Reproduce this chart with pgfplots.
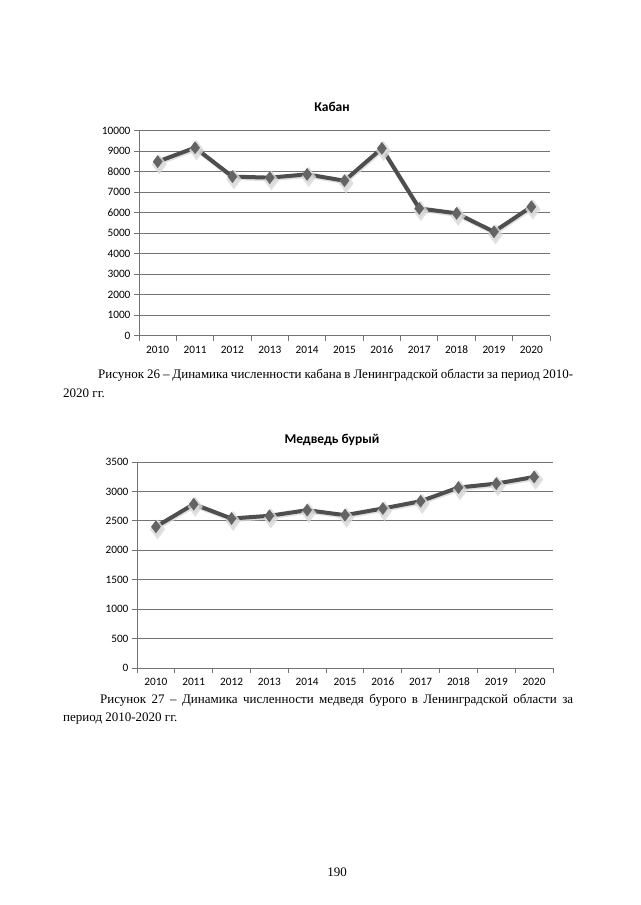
\documentclass[border=0pt]{standalone}
\usepackage{fontspec}
\setmainfont{Liberation Serif}
\newfontfamily\calibri{Carlito}
\usepackage{pgfplots}
\pgfplotsset{compat=1.18}
\definecolor{linec}{RGB}{78,78,78}
\definecolor{markc}{RGB}{100,100,100}
\definecolor{gridc}{RGB}{115,115,115}
\pgfplotsset{
  excel/.style={
    scale only axis,
    axis x line*=bottom, axis y line*=left,
    xmin=-0.5, xmax=10.5, ymin=0,
    xtick={-0.5,0.5,...,10.5}, xticklabels={},
    extra x ticks={0,1,2,3,4,5,6,7,8,9,10},
    extra x tick labels={2010,2011,2012,2013,2014,2015,2016,2017,2018,2019,2020},
    extra x tick style={tick style={draw=none}},
    x tick label style={yshift=-1.5pt},
    tick align=outside, major tick length=5pt,
    ymajorgrids, grid style={gridc, line width=0.9pt},
    axis line style={gridc, line width=0.9pt},
    tick style={gridc, line width=0.9pt},
    ticklabel style={font=\calibri\fontsize{11.3}{13}\selectfont, text=black},
    scaled ticks=false,
    /pgf/number format/assume math mode=true,
    /pgf/number format/1000 sep={},
    clip=false,
  },
  serie/.style={linec, line width=4pt, mark=diamond*, mark size=6pt,
    mark options={fill=markc, draw=markc, line width=0.5pt}},
  shadow/.style={gray!30, line width=4.5pt, mark=diamond*, mark size=6.3pt,
    mark options={fill=gray!30, draw=gray!30}, opacity=0.8,
    transform canvas={xshift=0.8pt, yshift=-1.3pt}},
}
\begin{document}
\begin{tikzpicture}[x=1pt,y=1pt]
\fill[white] (0pt,0pt) rectangle (640pt,-905pt);

% Chart 1
\begin{axis}[excel, at={(139pt,-335.7pt)}, anchor=south west, width=411pt, height=205pt,
  ymax=10000, ytick={0,1000,...,10000}]
\addplot[shadow] coordinates {(0,8490) (1,9170) (2,7760) (3,7710) (4,7870) (5,7560) (6,9140) (7,6210) (8,5970) (9,5070) (10,6290)};
\addplot[serie] coordinates {(0,8490) (1,9170) (2,7760) (3,7710) (4,7870) (5,7560) (6,9140) (7,6210) (8,5970) (9,5070) (10,6290)};
\end{axis}
\node[font=\calibri\bfseries\fontsize{13.5}{15}\selectfont] at (332pt,-107pt) {Кабан};

\node[anchor=base west, font=\fontsize{13}{16}\selectfont, inner sep=0pt] at (98pt,-378pt)
  {\makebox[475pt][s]{Рисунок 26 – Динамика численности кабана в Ленинградской области за период 2010-}};
\node[anchor=base west, font=\fontsize{13}{16}\selectfont, inner sep=0pt] at (63pt,-397pt) {2020 гг.};

% Chart 2
\begin{axis}[excel, at={(137pt,-668pt)}, anchor=south west, width=416pt, height=206pt,
  ymax=3500, ytick={0,500,...,3500}]
\addplot[shadow] coordinates {(0,2400) (1,2784) (2,2540) (3,2586) (4,2682) (5,2597) (6,2710) (7,2834) (8,3066) (9,3133) (10,3246)};
\addplot[serie] coordinates {(0,2400) (1,2784) (2,2540) (3,2586) (4,2682) (5,2597) (6,2710) (7,2834) (8,3066) (9,3133) (10,3246)};
\end{axis}
\node[font=\calibri\bfseries\fontsize{13.5}{15}\selectfont] at (332pt,-440pt) {Медведь бурый};

\node[anchor=base west, font=\fontsize{13}{16}\selectfont, inner sep=0pt] at (100pt,-703pt)
  {\makebox[473pt][s]{Рисунок 27 – Динамика численности медведя бурого в Ленинградской области за}};
\node[anchor=base west, font=\fontsize{13}{16}\selectfont, inner sep=0pt] at (63pt,-721pt) {период 2010-2020 гг.};

\node[anchor=base, font=\fontsize{13}{16}\selectfont, inner sep=0pt] at (337pt,-876pt) {190};
\end{tikzpicture}
\end{document}
